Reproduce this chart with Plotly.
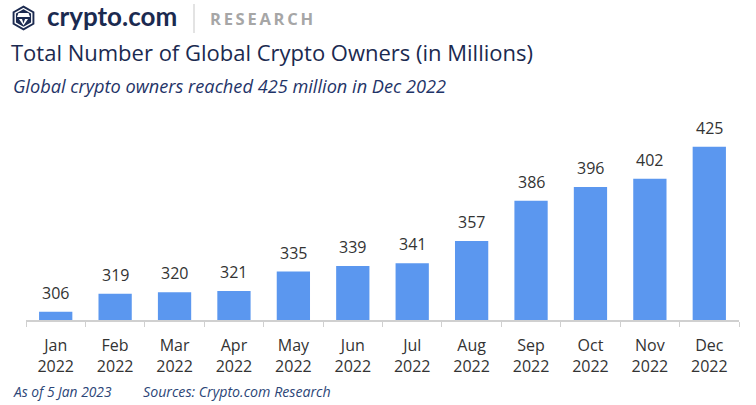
"""
Total de detentores de cripto no mundo (em milhões), Jan-Dez 2022
Gráfico de barras no estilo Crypto.com Research
"""

import plotly.graph_objects as go

# Dados
meses = ['Jan', 'Feb', 'Mar', 'Apr', 'May', 'Jun',
         'Jul', 'Aug', 'Sep', 'Oct', 'Nov', 'Dec']
ano = '2022'
donos = [306, 319, 320, 321, 335, 339, 341, 357, 386, 396, 402, 425]

categorias = [f'{m}<br>{ano}' for m in meses]

# Geometria (pixels)
W, H = 756, 405
ML, MR, MT, MB = 26, 17, 126, 85
PW, PH = W - ML - MR, H - MT - MB

AZUL_BARRA = '#5B97EF'
NAVY = '#1B2A50'
TEXTO = '#333333'
FONTE = 'Open Sans'
TS = '\u2009'  # espaço fino


def px(x):
    """pixel x -> paper"""
    return (x - ML) / PW


def py(y):
    """pixel y -> paper"""
    return (H - MB - y) / PH


def caminho(pontos):
    return 'M ' + ' L '.join(f'{px(a):.5f},{py(b):.5f}' for a, b in pontos) + ' Z'


def criar_grafico():
    fig = go.Figure(go.Bar(
        x=categorias, y=donos,
        marker=dict(color=AZUL_BARRA, line=dict(width=0)),
        hoverinfo='x+y',
    ))

    # rótulos de valor acima das barras
    anotacoes = []
    for c, v in zip(categorias, donos):
        anotacoes.append(dict(
            x=c, y=v, xref='x', yref='y', text=str(v), showarrow=False,
            yanchor='bottom', yshift=6,
            font=dict(family=FONTE, size=16, color=TEXTO),
        ))

    # subtítulo e rodapé
    anotacoes += [
        dict(x=px(11), y=py(86), xref='paper', yref='paper', xanchor='left', yanchor='middle',
             text='<i>Global crypto owners reached 425 million in Dec 2022</i>', showarrow=False,
             font=dict(family=FONTE, size=18.2, color='#1F3468')),
        dict(x=px(11), y=py(391), xref='paper', yref='paper', xanchor='left', yanchor='middle',
             text='<i>As of 5 Jan 2023</i>', showarrow=False,
             font=dict(family=FONTE, size=13.8, color='#2C4677')),
        dict(x=px(141), y=py(391), xref='paper', yref='paper', xanchor='left', yanchor='middle',
             text='<i>Sources: Crypto.com Research</i>', showarrow=False,
             font=dict(family=FONTE, size=14.2, color='#2C4677')),
        # logotipo em texto
        dict(x=px(45), y=py(16), xref='paper', yref='paper', xanchor='left', yanchor='middle',
             text='<b>crypto.com</b>', showarrow=False,
             font=dict(family='Lato', size=26, color=NAVY)),
        dict(x=px(208), y=py(18), xref='paper', yref='paper', xanchor='left', yanchor='middle',
             text='<b>' + TS.join('RESEARCH') + '</b>', showarrow=False,
             font=dict(family=FONTE, size=16.5, color='#A6A6A6')),
    ]

    # hexágono do logotipo
    cx, cy, r = 23.5, 18, 12.5
    hexa = [(cx, cy - r), (cx + 0.87 * r, cy - r / 2), (cx + 0.87 * r, cy + r / 2),
            (cx, cy + r), (cx - 0.87 * r, cy + r / 2), (cx - 0.87 * r, cy - r / 2)]
    r2 = 9.5
    hexa2 = [(cx, cy - r2), (cx + 0.87 * r2, cy - r2 / 2), (cx + 0.87 * r2, cy + r2 / 2),
             (cx, cy + r2), (cx - 0.87 * r2, cy + r2 / 2), (cx - 0.87 * r2, cy - r2 / 2)]
    capacete = [(cx - 5, cy - 5), (cx + 5, cy - 5), (cx + 6.5, cy - 1), (cx - 6.5, cy - 1)]
    queixo = [(cx - 4.5, cy + 1), (cx - 1.5, cy + 1), (cx, cy + 5.5), (cx + 1.5, cy + 1),
              (cx + 4.5, cy + 1), (cx, cy + 7.5)]

    formas = [
        dict(type='path', path=caminho(hexa), xref='paper', yref='paper',
             fillcolor=NAVY, line=dict(width=0)),
        dict(type='path', path=caminho(hexa2), xref='paper', yref='paper',
             fillcolor='rgba(0,0,0,0)', line=dict(color='white', width=1.4)),
        dict(type='path', path=caminho(capacete), xref='paper', yref='paper',
             fillcolor='white', line=dict(width=0)),
        dict(type='path', path=caminho(queixo), xref='paper', yref='paper',
             fillcolor='white', line=dict(width=0)),
        # separador
        dict(type='line', x0=px(194), x1=px(194), y0=py(4), y1=py(33), xref='paper', yref='paper',
             line=dict(color='#DADADA', width=1.5)),
    ]

    fig.update_layout(
        width=W, height=H,
        margin=dict(l=ML, r=MR, t=MT, b=MB),
        paper_bgcolor='white', plot_bgcolor='white',
        bargap=0.44,
        showlegend=False,
        title=dict(text='Total Number of Global Crypto Owners (in Millions)',
                   x=11 / W, xref='container', xanchor='left',
                   y=1 - 53 / H, yref='container', yanchor='middle',
                   font=dict(family=FONTE, size=22, color=NAVY)),
        annotations=anotacoes,
        shapes=formas,
        font=dict(family=FONTE, color=TEXTO),
    )

    fig.update_xaxes(
        type='category', tickson='boundaries',
        ticks='outside', ticklen=5, tickwidth=1.3, tickcolor='#D0D0D0',
        showline=True, linecolor='#D0D0D0', linewidth=1.5,
        showgrid=False, ticklabelstandoff=10,
        tickfont=dict(family=FONTE, size=16, color=TEXTO),
        fixedrange=True,
    )
    fig.update_yaxes(
        range=[300, 440], visible=False, showgrid=False, zeroline=False, fixedrange=True,
    )
    return fig


def main():
    fig = criar_grafico()
    # sem margem no body, para a figura ocupar a janela inteira
    fig.write_html('out.html', config={'displayModeBar': False},
                   post_script="document.body.style.margin='0px';")


if __name__ == '__main__':
    main()
